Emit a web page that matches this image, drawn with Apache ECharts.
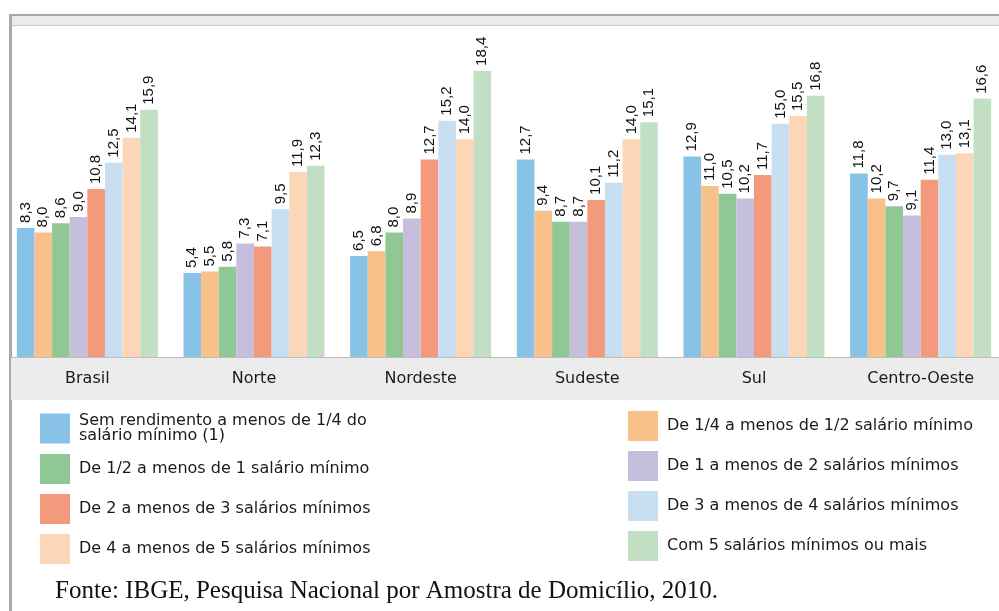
<!DOCTYPE html>
<html>
<head>
<meta charset="utf-8">
<script src="https://cdn.jsdelivr.net/npm/echarts@6/dist/echarts.min.js"></script>
<style>
  html, body { margin: 0; padding: 0; background: #fff; }
  #chart { width: 999px; height: 611px; }
</style>
</head>
<body>
<div id="chart"></div>
<script>
  // regiões
  var regioes = ['Brasil', 'Norte', 'Nordeste', 'Sudeste', 'Sul', 'Centro-Oeste'];

  // classes de rendimento
  var classes = [
    'Sem rendimento a menos de 1/4 do\nsalário mínimo (1)',
    'De 1/4 a menos de 1/2 salário mínimo',
    'De 1/2 a menos de 1 salário mínimo',
    'De 1 a menos de 2 salários mínimos',
    'De 2 a menos de 3 salários mínimos',
    'De 3 a menos de 4 salários mínimos',
    'De 4 a menos de 5 salários mínimos',
    'Com 5 salários mínimos ou mais'
  ];

  // valores por classe (uma lista por classe, na ordem das regiões)
  var semRend = [8.3, 5.4, 6.5, 12.7, 12.9, 11.8];
  var de14a12 = [8.0, 5.5, 6.8, 9.4, 11.0, 10.2];
  var de12a1 = [8.6, 5.8, 8.0, 8.7, 10.5, 9.7];
  var de1a2 = [9.0, 7.3, 8.9, 8.7, 10.2, 9.1];
  var de2a3 = [10.8, 7.1, 12.7, 10.1, 11.7, 11.4];
  var de3a4 = [12.5, 9.5, 15.2, 11.2, 15.0, 13.0];
  var de4a5 = [14.1, 11.9, 14.0, 14.0, 15.5, 13.1];
  var com5 = [15.9, 12.3, 18.4, 15.1, 16.8, 16.6];

  var valores = [semRend, de14a12, de12a1, de1a2, de2a3, de3a4, de4a5, com5];
  var cores = ['#88c2e6', '#f8c18a', '#8fc795', '#c5bfdd', '#f29a7b', '#c8dff2', '#fbd7b7', '#c2dfc4'];

  var chart = echarts.init(document.getElementById('chart'));

  var series = classes.map(function (nome, i) {
    return {
      name: nome,
      type: 'bar',
      data: valores[i],
      barGap: '0%',
      barCategoryGap: '15.4%',
      itemStyle: { color: cores[i] },
      label: {
        show: true,
        position: 'top',
        distance: 5,
        rotate: 90,
        align: 'left',
        verticalAlign: 'middle',
        fontFamily: 'Liberation Sans',
        fontSize: 15,
        color: '#111',
        formatter: function (p) {
          return p.value.toFixed(1).replace('.', ',');
        }
      }
    };
  });

  var legendText = {
    fontFamily: 'DejaVu Sans',
    fontSize: 16,
    lineHeight: 15,
    color: '#1a1a1a',
    padding: [0, 0, 0, 4]
  };

  var option = {
    backgroundColor: '#fff',
    animation: false,
    title: {
      text: 'Fonte: IBGE, Pesquisa Nacional por Amostra de Domicílio, 2010.',
      left: 55,
      top: 579,
      padding: 0,
      textStyle: {
        fontFamily: 'Liberation Serif',
        fontSize: 25,
        fontWeight: 'normal',
        color: '#111'
      }
    },
    legend: [{
      orient: 'vertical',
      left: 40,
      top: 413,
      padding: 0,
      itemWidth: 30,
      itemHeight: 30,
      itemGap: 10,
      itemStyle: { borderWidth: 0 },
      icon: 'rect',
      textStyle: legendText,
      data: [classes[0], classes[2], classes[4], classes[6]]
    }, {
      orient: 'vertical',
      left: 628,
      top: 411,
      padding: 0,
      itemWidth: 30,
      itemHeight: 30,
      itemGap: 10,
      itemStyle: { borderWidth: 0 },
      icon: 'rect',
      textStyle: legendText,
      data: [classes[1], classes[3], classes[5], classes[7]]
    }],
    grid: {
      left: 4,
      right: -5,
      top: 46,
      bottom: 254,
      outerBoundsMode: 'none'
    },
    xAxis: {
      type: 'category',
      data: regioes,
      axisTick: { show: false },
      axisLine: { show: false },
      axisLabel: {
        margin: 14,
        fontFamily: 'DejaVu Sans',
        fontSize: 16,
        color: '#1a1a1a'
      }
    },
    yAxis: {
      type: 'value',
      show: false,
      min: 0,
      max: 20
    },
    graphic: [
      { type: 'rect', z: -10, shape: { x: 9, y: 14, width: 990, height: 2 }, style: { fill: '#aaaaaa' } },
      { type: 'rect', z: -10, shape: { x: 11, y: 16, width: 988, height: 9 }, style: { fill: '#eaeceb' } },
      { type: 'rect', z: -10, shape: { x: 11, y: 25, width: 988, height: 1 }, style: { fill: '#cccccc' } },
      { type: 'rect', z: -10, shape: { x: 9, y: 14, width: 3, height: 597 }, style: { fill: '#aaaaaa' } },
      { type: 'rect', z: -10, shape: { x: 11, y: 357, width: 988, height: 1 }, style: { fill: '#bdbdbd' } },
      { type: 'rect', z: -10, shape: { x: 11, y: 358, width: 988, height: 42 }, style: { fill: '#ebeceb' } }
    ],
    series: series
  };

  chart.setOption(option);
</script>
</body>
</html>
